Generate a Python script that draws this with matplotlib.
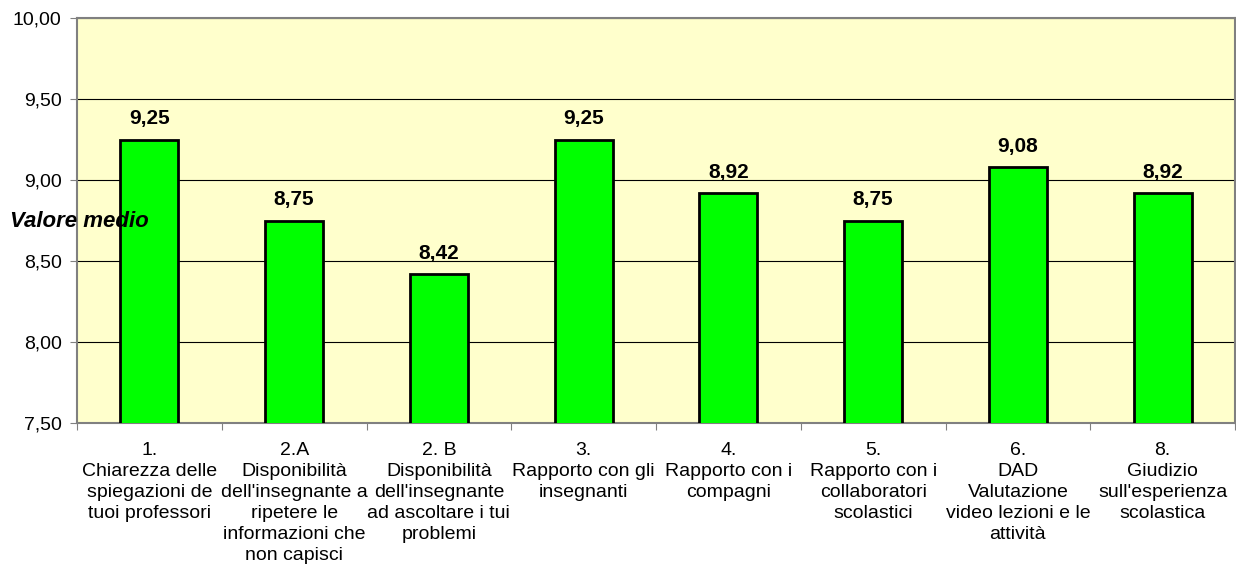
import matplotlib.pyplot as plt
from matplotlib.ticker import FuncFormatter

categories = [
    "1.\nChiarezza delle\nspiegazioni de\ntuoi professori",
    "2.A\nDisponibilità\ndell'insegnante a\nripetere le\ninformazioni che\nnon capisci",
    "2. B\nDisponibilità\ndell'insegnante\nad ascoltare i tui\nproblemi",
    "3.\nRapporto con gli\ninsegnanti",
    "4.\nRapporto con i\ncompagni",
    "5.\nRapporto con i\ncollaboratori\nscolastici",
    "6.\nDAD\nValutazione\nvideo lezioni e le\nattività",
    "8.\nGiudizio\nsull'esperienza\nscolastica",
]
values = [9.25, 8.75, 8.42, 9.25, 8.92, 8.75, 9.08, 8.92]
yticks = [7.5, 8.0, 8.5, 9.0, 9.5, 10.0]

plt.rcParams["font.family"] = ["Liberation Sans", "DejaVu Sans"]

fig = plt.figure(figsize=(12.36, 5.72), dpi=100)
ax = fig.add_axes([0.0623, 0.2605, 0.9369, 0.708])
ax.set_facecolor("#FFFFCC")

x = range(len(values))
ax.bar(x, values, width=0.4, bottom=0, color="#00FF00", edgecolor="black",
       linewidth=2, zorder=3)

for xi, v in zip(x, values):
    ax.annotate(f"{v:.2f}".replace(".", ","), (xi, v), xytext=(0, 8),
                textcoords="offset points", ha="center", va="bottom",
                fontsize=15, fontweight="bold")

ax.set_ylim(7.5, 10.0)
ax.set_xlim(-0.5, len(values) - 0.5)
ax.set_yticks(yticks)
ax.yaxis.set_major_formatter(FuncFormatter(lambda v, p: f"{v:.2f}".replace(".", ",")))
ax.tick_params(axis="y", labelsize=14, length=5, color="#808080", pad=6)

ax.set_xticks([i - 0.5 for i in range(len(values) + 1)], minor=False)
ax.set_xticklabels([""] * (len(values) + 1))
ax.set_xticks(list(x), minor=True)
ax.set_xticklabels(categories, minor=True, fontsize=14, linespacing=1.3, va="top")
ax.tick_params(axis="x", which="major", length=5, color="#808080")
ax.tick_params(axis="x", which="minor", length=0, pad=14)

ax.grid(axis="y", color="black", linewidth=0.8, zorder=1)
for s in ax.spines.values():
    s.set_color("#808080")
    s.set_linewidth(1.5)

fig.text(0.008, 0.612, "Valore medio", fontsize=16, fontweight="bold",
         fontstyle="italic", va="center", ha="left")

fig.savefig("out.png", dpi=100)
